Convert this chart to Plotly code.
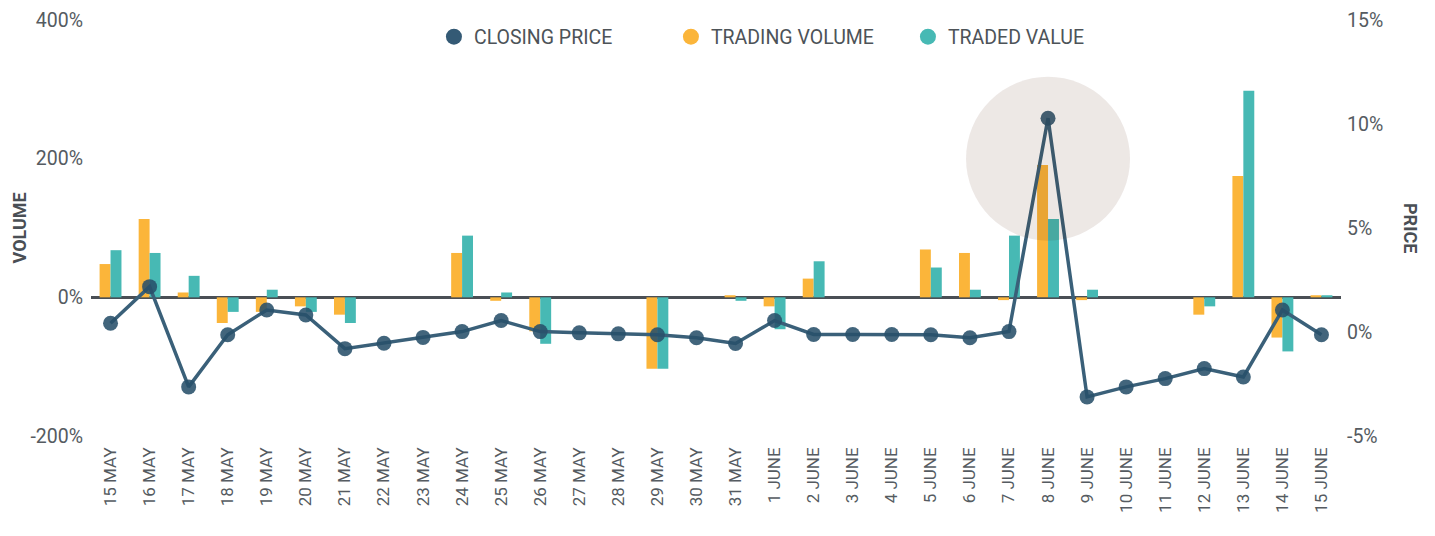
import plotly.graph_objects as go

dates = ["15 MAY", "16 MAY", "17 MAY", "18 MAY", "19 MAY", "20 MAY", "21 MAY", "22 MAY",
         "23 MAY", "24 MAY", "25 MAY", "26 MAY", "27 MAY", "28 MAY", "29 MAY", "30 MAY",
         "31 MAY", "1 JUNE", "2 JUNE", "3 JUNE", "4 JUNE", "5 JUNE", "6 JUNE", "7 JUNE",
         "8 JUNE", "9 JUNE", "10 JUNE", "11 JUNE", "12 JUNE", "13 JUNE", "14 JUNE", "15 JUNE"]

trading_volume = [48, 113, 7, -37, -21, -13, -25, 0, 0, 64, -5, -49, 0, 0, -103, 0,
                  3, -13, 27, 0, 0, 69, 64, -4, 191, -4, 0, 0, -25, 175, -58, 3]
traded_value = [68, 64, 31, -21, 11, -21, -37, 0, 0, 89, 7, -67, 0, 0, -103, 0,
                -5, -46, 52, 0, 0, 43, 11, 89, 113, 11, 0, 0, -13, 298, -78, 3]
closing_price = [0.42, 2.18, -2.64, -0.13, 1.06, 0.82, -0.80, -0.54, -0.26, 0.02, 0.55, 0.02,
                 -0.04, -0.09, -0.13, -0.28, -0.55, 0.55, -0.12, -0.12, -0.12, -0.13, -0.28, 0.02,
                 10.28, -3.12, -2.64, -2.24, -1.76, -2.16, 1.06, -0.13]

vol_ticks = [-200, 0, 200, 400]
vol_ticktext = ["-200%", "0%", "200%", "400%"]
price_ticks = [-5, 0, 5, 10, 15]
price_ticktext = ["-5%", "0%", "5%", "10%", "15%"]

highlight_day = "8 JUNE"
highlight_level = 200

ORANGE = "#FBB53A"
TEAL = "#47B9B4"
NAVY = "#3A6079"
MARK = "rgba(40,80,106,0.88)"
TXT = "#555B61"
FONT = "Roboto"

fig = go.Figure()
fig.add_trace(go.Bar(x=dates, y=trading_volume, name="TRADING VOLUME", marker_color=ORANGE,
                     marker_line_width=0, showlegend=False, hoverinfo="skip"))
fig.add_trace(go.Bar(x=dates, y=traded_value, name="TRADED VALUE", marker_color=TEAL,
                     marker_line_width=0, showlegend=False, hoverinfo="skip"))
fig.add_trace(go.Scatter(x=dates, y=closing_price, yaxis="y2", mode="lines+markers",
                         line=dict(color=NAVY, width=3.5),
                         marker=dict(size=15, color=MARK), showlegend=False, hoverinfo="skip"))

for nm, col in [("CLOSING PRICE", "#345A75"), ("TRADING VOLUME", ORANGE), ("TRADED VALUE", TEAL)]:
    fig.add_trace(go.Scatter(x=[None], y=[None], mode="markers", name=nm,
                             marker=dict(size=20, color=col), showlegend=True))

fig.add_shape(type="circle", xref="x", yref="y", xsizemode="pixel", ysizemode="pixel",
              xanchor=highlight_day, yanchor=highlight_level,
              x0=-82, x1=82, y0=-82, y1=82, layer="above",
              fillcolor="rgba(75,25,0,0.10)", line_width=0)

fig.update_layout(
    width=1435, height=536,
    margin=dict(l=91, r=94, t=20, b=100, autoexpand=False),
    paper_bgcolor="white", plot_bgcolor="white",
    barmode="group", bargap=0.44, bargroupgap=0,
    font=dict(family=FONT, size=19, color=TXT),
    legend=dict(orientation="h", xref="container", yref="container",
                x=0.3024, xanchor="left", y=1 - 37 / 536, yanchor="middle",
                font=dict(size=19.5, color="#4D5358"), entrywidth=192, itemsizing="trace",
                bgcolor="rgba(0,0,0,0)"),
    xaxis=dict(type="category", tickangle=-90, showgrid=False, showline=False, ticks="",
               tickfont=dict(size=17, color=TXT), range=[-0.5, len(dates) - 0.5],
               ticklabelstandoff=7),
    yaxis=dict(range=[-200, 400], tickvals=vol_ticks, ticktext=vol_ticktext, showgrid=False,
               zeroline=True, zerolinecolor="#4A4F55", zerolinewidth=3, showline=False,
               ticks="", tickfont=dict(size=19.5, color=TXT), ticklabelstandoff=7),
    yaxis2=dict(range=[-5, 15], tickvals=price_ticks, ticktext=price_ticktext, overlaying="y",
                side="right", showgrid=False, zeroline=False, showline=False, ticks="",
                tickfont=dict(size=19.5, color=TXT), ticklabelstandoff=5),
    annotations=[
        dict(text="<b>VOLUME</b>", xref="paper", yref="paper", x=-0.058, y=0.5, textangle=-90,
             showarrow=False, font=dict(size=18, color="#4A4F55"), xanchor="center", yanchor="middle"),
        dict(text="<b>PRICE</b>", xref="paper", yref="paper", x=1.056, y=0.5, textangle=90,
             showarrow=False, font=dict(size=18, color="#4A4F55"), xanchor="center", yanchor="middle"),
    ],
)

fig.write_html("out.html")
